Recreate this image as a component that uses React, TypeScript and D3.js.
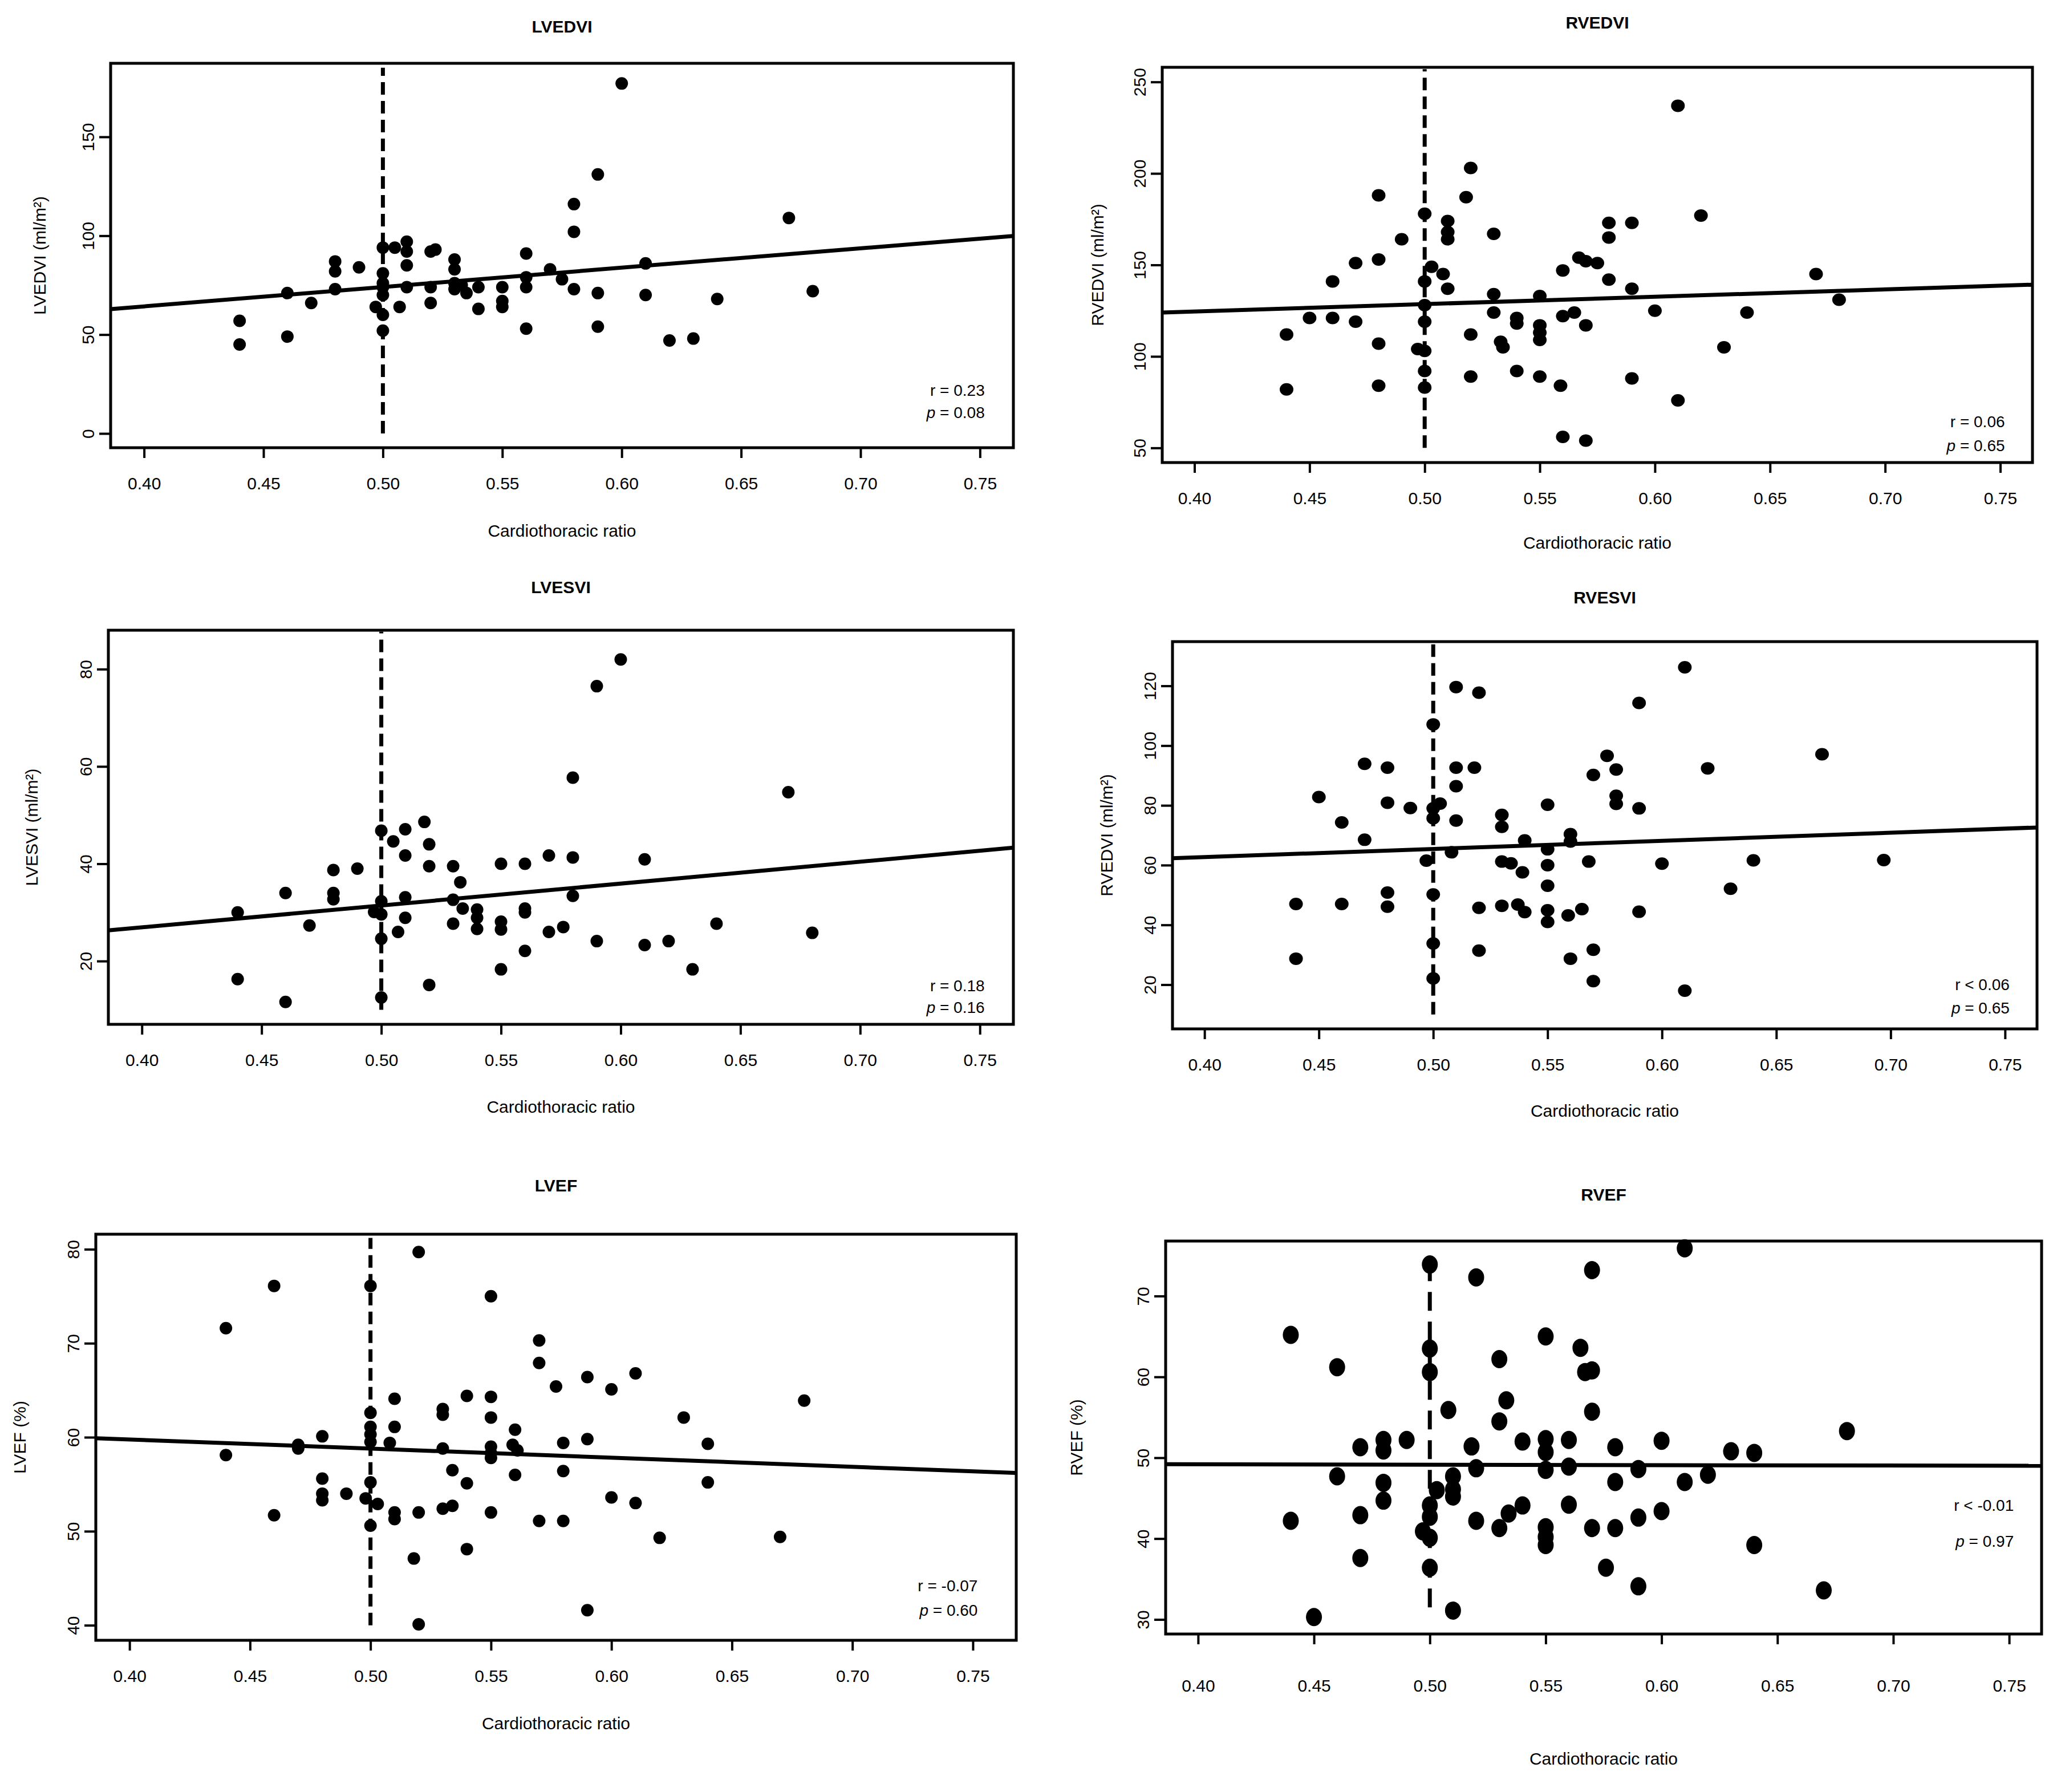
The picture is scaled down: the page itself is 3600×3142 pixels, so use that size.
import React, { useRef, useEffect } from "react";
import * as d3 from "d3";

// shared x axis (cardiothoracic ratio)
const xTicks = [0.4, 0.45, 0.5, 0.55, 0.6, 0.65, 0.7, 0.75];
const xMin = 0.386;
const cutOff = 0.5;

// LVEDVI
const lvedviPoints = [
  [0.44, 57], [0.44, 45], [0.46, 49], [0.46, 71], [0.47, 66], [0.48, 87], [0.48, 82], [0.48, 73], [0.49, 84],
  [0.5, 94], [0.505, 94], [0.5, 81], [0.5, 76], [0.5, 74], [0.5, 70], [0.497, 64], [0.5, 60], [0.5, 52],
  [0.51, 97], [0.51, 92], [0.51, 85], [0.51, 74], [0.507, 64],
  [0.52, 92], [0.522, 93], [0.52, 74], [0.52, 66],
  [0.53, 88], [0.53, 83], [0.53, 76], [0.53, 73], [0.533, 75], [0.535, 71],
  [0.54, 74], [0.54, 63], [0.55, 74], [0.55, 67], [0.55, 64],
  [0.56, 91], [0.56, 79], [0.56, 74], [0.56, 53], [0.57, 83], [0.575, 78],
  [0.58, 116], [0.58, 102], [0.58, 73], [0.59, 131], [0.59, 71], [0.59, 54], [0.6, 177],
  [0.61, 86], [0.61, 70], [0.62, 47], [0.63, 48], [0.64, 68], [0.67, 109], [0.68, 72],
];
const lvedviTicks = [0, 50, 100, 150];
const lvedviFit = [62.9, 99.9];
const lvedviCut = [0, 185];

// RVEDVI
const rvedviPoints = [
  [0.44, 112], [0.44, 82], [0.45, 121], [0.46, 121], [0.46, 141], [0.47, 151], [0.47, 119],
  [0.48, 153], [0.48, 188], [0.48, 107], [0.48, 84], [0.49, 164],
  [0.5, 178], [0.5, 141], [0.503, 149], [0.5, 128], [0.5, 119], [0.497, 104], [0.5, 103], [0.5, 92], [0.5, 83],
  [0.51, 174], [0.51, 168], [0.51, 164], [0.508, 145], [0.51, 137],
  [0.52, 203], [0.518, 187], [0.52, 112], [0.52, 89],
  [0.53, 167], [0.53, 134], [0.53, 124], [0.54, 121], [0.54, 118], [0.533, 108], [0.534, 105], [0.54, 92],
  [0.55, 133], [0.55, 117], [0.55, 113], [0.55, 109], [0.55, 89],
  [0.56, 147], [0.56, 122], [0.565, 124], [0.559, 84], [0.56, 56],
  [0.567, 154], [0.57, 152], [0.57, 117], [0.57, 54], [0.575, 151],
  [0.58, 173], [0.58, 165], [0.58, 142], [0.59, 173], [0.59, 137], [0.59, 88], [0.6, 125],
  [0.61, 237], [0.61, 76], [0.62, 177], [0.63, 105], [0.64, 124], [0.67, 145], [0.68, 131],
];
const rvedviTicks = [50, 100, 150, 200, 250];
const rvedviFit = [124, 139.2];
const rvedviCut = [50, 257];

// LVESVI
const lvesviPoints = [
  [0.44, 30], [0.44, 16.3], [0.46, 34], [0.46, 11.6], [0.47, 27.3], [0.48, 38.7], [0.48, 34], [0.48, 32.7], [0.49, 39],
  [0.5, 46.8], [0.505, 44.6], [0.5, 32.3], [0.497, 30.1], [0.5, 29.6], [0.5, 24.6], [0.5, 12.5],
  [0.51, 47.1], [0.51, 41.7], [0.51, 33.1], [0.51, 28.9], [0.507, 26],
  [0.518, 48.6], [0.52, 44], [0.52, 39.5], [0.52, 15.1],
  [0.53, 39.5], [0.53, 32.6], [0.53, 27.7], [0.533, 36.2], [0.534, 30.8],
  [0.54, 30.6], [0.54, 28.9], [0.54, 26.6],
  [0.55, 40], [0.55, 28.1], [0.55, 26.5], [0.55, 18.3],
  [0.56, 40], [0.56, 30.8], [0.56, 30], [0.56, 22.1],
  [0.57, 41.7], [0.57, 26], [0.576, 27], [0.58, 41.3], [0.58, 57.7], [0.58, 33.4],
  [0.59, 76.5], [0.59, 24.1], [0.6, 82], [0.61, 40.9], [0.61, 23.3], [0.62, 24.1], [0.63, 18.3],
  [0.64, 27.7], [0.67, 54.7], [0.68, 25.8],
];
const lvesviTicks = [20, 40, 60, 80];
const lvesviFit = [26.3, 43.3];
const lvesviCut = [10, 87.7];

// RVESVI
const rvesviPoints = [
  [0.44, 47], [0.44, 28.7], [0.45, 82.8], [0.46, 47], [0.46, 74.3], [0.47, 93.9], [0.47, 68.5],
  [0.48, 92.6], [0.48, 80.9], [0.48, 50.8], [0.48, 46.1], [0.49, 79.1],
  [0.5, 107.1], [0.5, 79], [0.503, 80.6], [0.5, 75.7], [0.497, 61.5], [0.5, 50.2], [0.5, 33.8], [0.5, 22.1],
  [0.508, 64.3], [0.51, 119.6], [0.51, 92.6], [0.51, 86.4], [0.51, 74.9],
  [0.518, 92.6], [0.52, 117.7], [0.52, 45.7], [0.52, 31.4],
  [0.53, 76.8], [0.53, 72.8], [0.53, 61.2], [0.534, 60.6], [0.53, 46.4], [0.537, 46.8],
  [0.54, 68.3], [0.539, 57.6], [0.54, 44.3],
  [0.55, 80.2], [0.55, 65.3], [0.55, 60], [0.55, 53.1], [0.55, 44.9], [0.55, 41],
  [0.56, 70.4], [0.56, 67.9], [0.559, 43.2], [0.56, 28.7], [0.565, 45.3],
  [0.568, 61.2], [0.57, 90.2], [0.57, 31.7], [0.57, 21.2], [0.576, 96.6],
  [0.58, 92], [0.58, 83.2], [0.58, 80.5], [0.59, 114.3], [0.59, 79], [0.59, 44.4], [0.6, 60.5],
  [0.61, 126.2], [0.61, 18], [0.62, 92.4], [0.63, 52.1], [0.64, 61.6], [0.67, 97.1], [0.697, 61.7],
];
const rvesviTicks = [20, 40, 60, 80, 100, 120];
const rvesviFit = [62.3, 72.6];
const rvesviCut = [10, 134.5];

// LVEF
const lvefPoints = [
  [0.44, 71.6], [0.44, 58.1], [0.46, 76.1], [0.46, 51.7], [0.47, 59.2], [0.47, 58.8],
  [0.48, 60.1], [0.48, 55.6], [0.48, 54], [0.48, 53.3], [0.49, 54],
  [0.5, 76.1], [0.5, 62.6], [0.5, 61.1], [0.5, 60.3], [0.5, 59.5], [0.5, 55.2], [0.498, 53.5], [0.503, 52.9], [0.5, 50.6],
  [0.51, 64.1], [0.51, 61.1], [0.508, 59.4], [0.51, 52], [0.51, 51.3],
  [0.52, 79.7], [0.52, 52], [0.518, 47.1], [0.52, 40.1],
  [0.53, 63], [0.53, 62.4], [0.53, 58.8], [0.53, 52.4], [0.534, 52.7], [0.534, 56.5],
  [0.54, 64.4], [0.54, 55.1], [0.54, 48.1],
  [0.55, 75], [0.55, 64.3], [0.55, 62.1], [0.55, 59], [0.55, 58.3], [0.55, 57.8], [0.55, 52],
  [0.56, 60.8], [0.559, 59.2], [0.561, 58.6], [0.56, 56],
  [0.57, 70.3], [0.57, 67.9], [0.57, 51.1], [0.577, 65.4], [0.58, 59.4], [0.58, 56.4], [0.58, 51.1],
  [0.59, 66.4], [0.59, 59.8], [0.59, 41.6], [0.6, 65.1], [0.6, 53.6], [0.61, 66.8], [0.61, 53],
  [0.62, 49.3], [0.63, 62.1], [0.64, 59.3], [0.64, 55.2], [0.67, 49.4], [0.68, 63.9],
];
const lvefTicks = [40, 50, 60, 70, 80];
const lvefFit = [59.9, 56.2];
const lvefCut = [40, 81.2];

// RVEF
const rvefPoints = [
  [0.44, 65.2], [0.44, 42.2], [0.45, 30.3], [0.46, 61.2], [0.46, 47.7], [0.47, 51.3], [0.47, 42.9], [0.47, 37.6],
  [0.48, 52.2], [0.48, 50.9], [0.48, 46.9], [0.48, 44.7], [0.49, 52.2],
  [0.5, 73.9], [0.5, 63.5], [0.5, 60.6], [0.503, 46], [0.5, 44.1], [0.5, 42.7], [0.497, 40.9], [0.5, 40.1], [0.5, 36.4],
  [0.508, 55.9], [0.51, 31.1], [0.51, 47.7], [0.51, 46.1], [0.51, 45.2],
  [0.518, 51.4], [0.52, 72.3], [0.52, 48.7], [0.52, 42.2],
  [0.53, 62.2], [0.533, 57.1], [0.53, 54.5], [0.53, 41.3], [0.534, 43.1], [0.54, 52], [0.54, 44.1],
  [0.55, 65], [0.55, 52.3], [0.55, 50.7], [0.55, 48.5], [0.55, 41.4], [0.55, 40.2], [0.55, 39.2],
  [0.56, 52.2], [0.56, 48.9], [0.56, 44.2],
  [0.565, 63.6], [0.567, 60.6], [0.57, 60.8], [0.57, 73.2], [0.57, 55.7], [0.57, 41.3], [0.576, 36.4],
  [0.58, 51.3], [0.58, 47], [0.58, 41.3], [0.59, 48.6], [0.59, 42.6], [0.59, 34.1], [0.6, 52.1], [0.6, 43.4],
  [0.61, 75.9], [0.61, 47], [0.62, 47.9], [0.63, 50.8], [0.64, 50.6], [0.64, 39.2], [0.67, 33.6], [0.68, 53.3],
];
const rvefTicks = [30, 40, 50, 60, 70];
const rvefFit = [49.2, 49.0];
const rvefCut = [31.5, 74.5];

const font = "'Liberation Sans', Arial, Helvetica, sans-serif";

const panels = [
  {
    title: "LVEDVI", yLabel: "LVEDVI (ml/m²)", points: lvedviPoints, yTicks: lvedviTicks, fit: lvedviFit, cut: lvedviCut,
    yDomain: [-7.2, 187.2], xMax: 0.764, stat: ["r = 0.23", "= 0.08"], statY: [21.9, 10.6],
    box: { left: 194, right: 1777, top: 111, bottom: 785 }, titleOff: 65, yLabelOff: 125, xLabelOff: 145, tickPad: 34,
    rx: 11, ry: 11, dash: "22,11",
  },
  {
    title: "RVEDVI", yLabel: "RVEDVI (ml/m²)", points: rvedviPoints, yTicks: rvedviTicks, fit: rvedviFit, cut: rvedviCut,
    yDomain: [42, 258], xMax: 0.764, stat: ["r = 0.06", "= 0.65"], statY: [64.4, 51.4],
    box: { left: 2038, right: 3564, top: 118, bottom: 811 }, titleOff: 79, yLabelOff: 114, xLabelOff: 140, tickPad: 34,
    rx: 12, ry: 11, dash: "22,11",
  },
  {
    title: "LVESVI", yLabel: "LVESVI (ml/m²)", points: lvesviPoints, yTicks: lvesviTicks, fit: lvesviFit, cut: lvesviCut,
    yDomain: [7, 88], xMax: 0.764, stat: ["r = 0.18", "= 0.16"], statY: [15, 10.5],
    box: { left: 190, right: 1777, top: 1105, bottom: 1796 }, titleOff: 76, yLabelOff: 135, xLabelOff: 144, tickPad: 34,
    rx: 11, ry: 11, dash: "22,11",
  },
  {
    title: "RVESVI", yLabel: "RVEDVI (ml/m²)", points: rvesviPoints, yTicks: rvesviTicks, fit: rvesviFit, cut: rvesviCut,
    yDomain: [5.2, 134.8], xMax: 0.764, stat: ["r < 0.06", "= 0.65"], statY: [20, 12.2],
    box: { left: 2056, right: 3572, top: 1125, bottom: 1804 }, titleOff: 78, yLabelOff: 116, xLabelOff: 143, tickPad: 34,
    rx: 12, ry: 11, dash: "22,11",
  },
  {
    title: "LVEF", yLabel: "LVEF (%)", points: lvefPoints, yTicks: lvefTicks, fit: lvefFit, cut: lvefCut,
    yDomain: [38.4, 81.6], xMax: 0.768, stat: ["r = -0.07", "= 0.60"], statY: [44.2, 41.6],
    box: { left: 168, right: 1782, top: 2164, bottom: 2876 }, titleOff: 86, yLabelOff: 134, xLabelOff: 145, tickPad: 34,
    rx: 11, ry: 11, dash: "22,11",
  },
  {
    title: "RVEF", yLabel: "RVEF (%)", points: rvefPoints, yTicks: rvefTicks, fit: rvefFit, cut: rvefCut,
    yDomain: [28.2, 76.8], xMax: 0.764, stat: ["r < -0.01", "= 0.97"], statY: [44.1, 39.7],
    box: { left: 2044, right: 3580, top: 2176, bottom: 2865 }, titleOff: 82, yLabelOff: 157, xLabelOff: 218, tickPad: 62,
    rx: 14, ry: 16, dash: "33,19",
  },
];

const App = () => {
  const svgRef = useRef(null);

  useEffect(() => {
    const svg = d3.select(svgRef.current);
    svg.selectAll("*").remove();

    panels.forEach((pn) => {
      const b = pn.box;
      const x = d3.scaleLinear().domain([xMin, pn.xMax]).range([b.left, b.right]);
      const y = d3.scaleLinear().domain(pn.yDomain).range([b.bottom, b.top]);
      const g = svg.append("g");

      // points
      g.selectAll("ellipse")
        .data(pn.points)
        .join("ellipse")
        .attr("cx", (d) => x(d[0]))
        .attr("cy", (d) => y(d[1]))
        .attr("rx", pn.rx)
        .attr("ry", pn.ry)
        .attr("fill", "#000");

      // cut-off at 0.50
      g.append("line")
        .attr("x1", x(cutOff))
        .attr("x2", x(cutOff))
        .attr("y1", y(pn.cut[0]))
        .attr("y2", y(pn.cut[1]))
        .attr("stroke", "#000")
        .attr("stroke-width", 7)
        .attr("stroke-dasharray", pn.dash);

      // regression line
      const line = d3.line().x((d) => x(d[0])).y((d) => y(d[1]));
      g.append("path")
        .datum([[xMin, pn.fit[0]], [pn.xMax, pn.fit[1]]])
        .attr("d", line)
        .attr("stroke", "#000")
        .attr("stroke-width", 7)
        .attr("fill", "none");

      // box
      g.append("rect")
        .attr("x", b.left)
        .attr("y", b.top)
        .attr("width", b.right - b.left)
        .attr("height", b.bottom - b.top)
        .attr("fill", "none")
        .attr("stroke", "#000")
        .attr("stroke-width", 5);

      // x axis
      const gx = g.append("g")
        .attr("transform", `translate(0,${b.bottom})`)
        .call(
          d3.axisBottom(x)
            .tickValues(xTicks)
            .tickFormat(d3.format(".2f"))
            .tickSize(18)
            .tickSizeOuter(0)
            .tickPadding(pn.tickPad)
        );
      gx.select(".domain").remove();
      gx.selectAll("line").attr("stroke", "#000").attr("stroke-width", 4);
      gx.selectAll("text")
        .attr("fill", "#000")
        .attr("font-size", 30)
        .attr("font-family", font);

      // y axis
      const gy = g.append("g")
        .attr("transform", `translate(${b.left},0)`)
        .call(d3.axisLeft(y).tickValues(pn.yTicks).tickSize(20).tickSizeOuter(0));
      gy.select(".domain").remove();
      gy.selectAll("line").attr("stroke", "#000").attr("stroke-width", 4);
      gy.selectAll("text")
        .attr("x", null)
        .attr("dy", null)
        .attr("fill", "#000")
        .attr("font-size", 30)
        .attr("font-family", font)
        .attr("text-anchor", "middle")
        .attr("transform", "translate(-29,0) rotate(-90)");

      // titles and labels
      const cx = (b.left + b.right) / 2;
      g.append("text")
        .attr("x", cx)
        .attr("y", b.top - pn.titleOff)
        .attr("dy", "0.35em")
        .attr("text-anchor", "middle")
        .attr("font-family", font)
        .attr("font-weight", "bold")
        .attr("font-size", 30)
        .text(pn.title);

      g.append("text")
        .attr("x", cx)
        .attr("y", b.bottom + pn.xLabelOff)
        .attr("dy", "0.35em")
        .attr("text-anchor", "middle")
        .attr("font-family", font)
        .attr("font-size", 30)
        .text("Cardiothoracic ratio");

      const cy = (b.top + b.bottom) / 2;
      g.append("text")
        .attr("transform", `translate(${b.left - pn.yLabelOff},${cy}) rotate(-90)`)
        .attr("dy", "0.35em")
        .attr("text-anchor", "middle")
        .attr("font-family", font)
        .attr("font-size", 30)
        .text(pn.yLabel);

      // r and p
      g.append("text")
        .attr("x", x(0.752))
        .attr("y", y(pn.statY[0]))
        .attr("dy", "0.35em")
        .attr("text-anchor", "end")
        .attr("font-family", font)
        .attr("font-size", 28)
        .text(pn.stat[0]);
      const pt = g.append("text")
        .attr("x", x(0.752))
        .attr("y", y(pn.statY[1]))
        .attr("dy", "0.35em")
        .attr("text-anchor", "end")
        .attr("font-family", font)
        .attr("font-size", 28);
      pt.append("tspan").attr("font-style", "italic").text("p");
      pt.append("tspan").text(" " + pn.stat[1]);
    });
  }, []);

  return (
    <svg
      ref={svgRef}
      width={3600}
      height={3142}
      style={{ position: "absolute", left: 0, top: 0, background: "#fff" }}
    />
  );
};

export default App;
